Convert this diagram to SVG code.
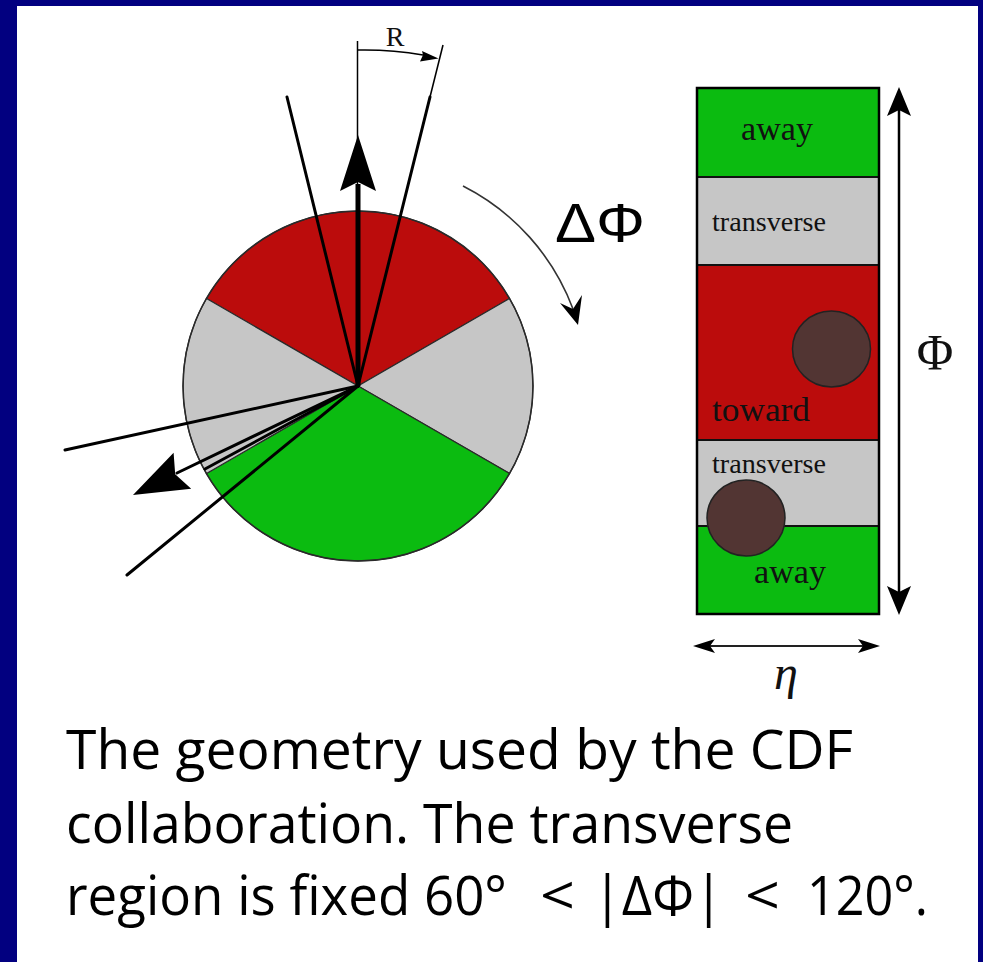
<svg xmlns="http://www.w3.org/2000/svg" width="983" height="962" viewBox="0 0 983 962">
<style>
.sector{stroke:#2a2a2a;stroke-width:1.2}
.red{fill:#bb0c0c}
.grey{fill:#c6c6c6}
.green{fill:#0bbb10}
.ray{stroke:#000;stroke-width:3;fill:none;stroke-linecap:round}
.thin{stroke:#000;stroke-width:1.5;fill:none}
.head{fill:#000;stroke:none}
.band{stroke:#111;stroke-width:2}
.blob{fill:#523533;stroke:#222;stroke-width:1.5}
.lbl{font-family:"Liberation Serif","Times New Roman",serif;fill:#111}
.cap{font-family:"Open Sans","Liberation Sans",sans-serif;font-size:54px;fill:#000}
</style>
<rect x="0" y="0" width="983" height="962" fill="#020080"/>
<rect x="17" y="6" width="961" height="960" fill="#ffffff"/>

<g id="pie">
  <path class="sector red" d="M358,386 L509.5,298.5 A175,175 0 0 0 206.5,298.5 Z"/>
  <path class="sector grey" d="M358,386 L509.5,298.5 A175,175 0 0 1 509.5,473.5 Z"/>
  <path class="sector green" d="M358,386 L509.5,473.5 A175,175 0 0 1 206.5,473.5 Z"/>
  <path class="sector grey" d="M358,386 L206.5,473.5 A175,175 0 0 1 206.5,298.5 Z"/>
  <circle cx="358" cy="386" r="175" fill="none" stroke="#2a2a2a" stroke-width="1.5"/>
</g>

<g id="connectors">
  <line class="ray" x1="358" y1="386" x2="287" y2="97"/>
  <line class="ray" x1="358" y1="386" x2="430" y2="97"/>
  <line class="thin" x1="430" y1="97" x2="443" y2="45"/>
  <line class="thin" x1="357.5" y1="41" x2="357.5" y2="186"/>
  <line x1="358" y1="386" x2="358" y2="184" stroke="#000" stroke-width="5"/>
  <polygon class="head" points="358,135 376,191 358,182 340,191"/>
  <line class="ray" x1="358" y1="386" x2="65" y2="450"/>
  <line class="ray" x1="358" y1="386" x2="205" y2="469"/>
  <line class="ray" x1="358" y1="386" x2="177" y2="473"/>
  <polygon class="head" points="133,495 191.2,488.8 175.2,474.3 173.6,452.8"/>
  <line class="ray" x1="358" y1="386" x2="127" y2="575"/>
  <path class="thin" d="M357.5,50 A336,336 0 0 1 423,55"/>
  <polygon class="head" points="438.5,58.5 420,61.5 423,55 422,51"/>
  <path d="M463,186 A227,227 0 0 1 573,309" fill="none" stroke="#333" stroke-width="1.6"/>
  <polygon class="head" points="578,325 560,303 573,309 582,295"/>
  <line x1="899" y1="110" x2="899" y2="592" stroke="#000" stroke-width="2.5"/>
  <polygon class="head" points="899,87 911,116 899,110 887,116"/>
  <polygon class="head" points="899,615 911,586 899,592 887,586"/>
  <line x1="710" y1="646" x2="863" y2="646" stroke="#222" stroke-width="2"/>
  <polygon class="head" points="693,646 715,639 710,646 715,653"/>
  <polygon class="head" points="880,646 858,639 863,646 858,653"/>
</g>

<g id="label-R"><text class="lbl" x="395" y="46" font-size="28" text-anchor="middle">R</text></g>
<g id="label-dphi"><text x="555" y="242" font-family="Liberation Sans, Arial, sans-serif" font-size="56" fill="#000" textLength="90" lengthAdjust="spacingAndGlyphs">ΔΦ</text></g>

<g id="eta-phi-map">
  <rect class="band green" x="697" y="88" width="182" height="89"/>
  <rect class="band grey" x="697" y="177" width="182" height="88"/>
  <rect class="band red" x="697" y="265" width="182" height="175"/>
  <rect class="band grey" x="697" y="440" width="182" height="86"/>
  <rect class="band green" x="697" y="526" width="182" height="88"/>
  <rect x="697" y="88" width="182" height="526" fill="none" stroke="#000" stroke-width="2.5"/>
</g>
<g id="jet-toward"><ellipse class="blob" cx="831.5" cy="349" rx="39" ry="38"/></g>
<g id="jet-transverse"><ellipse class="blob" cx="746" cy="518" rx="39" ry="38"/></g>

<g id="region-labels">
  <text class="lbl" x="741" y="140" font-size="34" textLength="72" lengthAdjust="spacingAndGlyphs">away</text>
  <text class="lbl" x="712" y="231" font-size="27" textLength="114" lengthAdjust="spacingAndGlyphs">transverse</text>
  <text class="lbl" x="712" y="421" font-size="34" textLength="98" lengthAdjust="spacingAndGlyphs">toward</text>
  <text class="lbl" x="712" y="473" font-size="27" textLength="114" lengthAdjust="spacingAndGlyphs">transverse</text>
  <text class="lbl" x="754" y="583" font-size="34" textLength="72" lengthAdjust="spacingAndGlyphs">away</text>
</g>
<g id="axis-labels">
  <text class="lbl" x="935" y="369" font-size="50" text-anchor="middle">Φ</text>
  <text class="lbl" x="786" y="689" font-size="48" font-style="italic" text-anchor="middle">η</text>
</g>

<g id="caption">
  <text class="cap" x="66" y="769" textLength="787" lengthAdjust="spacingAndGlyphs">The geometry used by the CDF</text>
  <text class="cap" x="66" y="843" textLength="727" lengthAdjust="spacingAndGlyphs">collaboration. The transverse</text>
  <text class="cap" x="66" y="915" textLength="441" lengthAdjust="spacingAndGlyphs">region is fixed 60°</text>
  <text class="cap" x="540" y="915" textLength="35" lengthAdjust="spacingAndGlyphs">&lt;</text>
  <text class="cap" x="593" y="915" textLength="130" lengthAdjust="spacingAndGlyphs">|ΔΦ|</text>
  <text class="cap" x="745" y="915" textLength="35" lengthAdjust="spacingAndGlyphs">&lt;</text>
  <text class="cap" x="807" y="915" textLength="121" lengthAdjust="spacingAndGlyphs">120°.</text>
</g>
</svg>
